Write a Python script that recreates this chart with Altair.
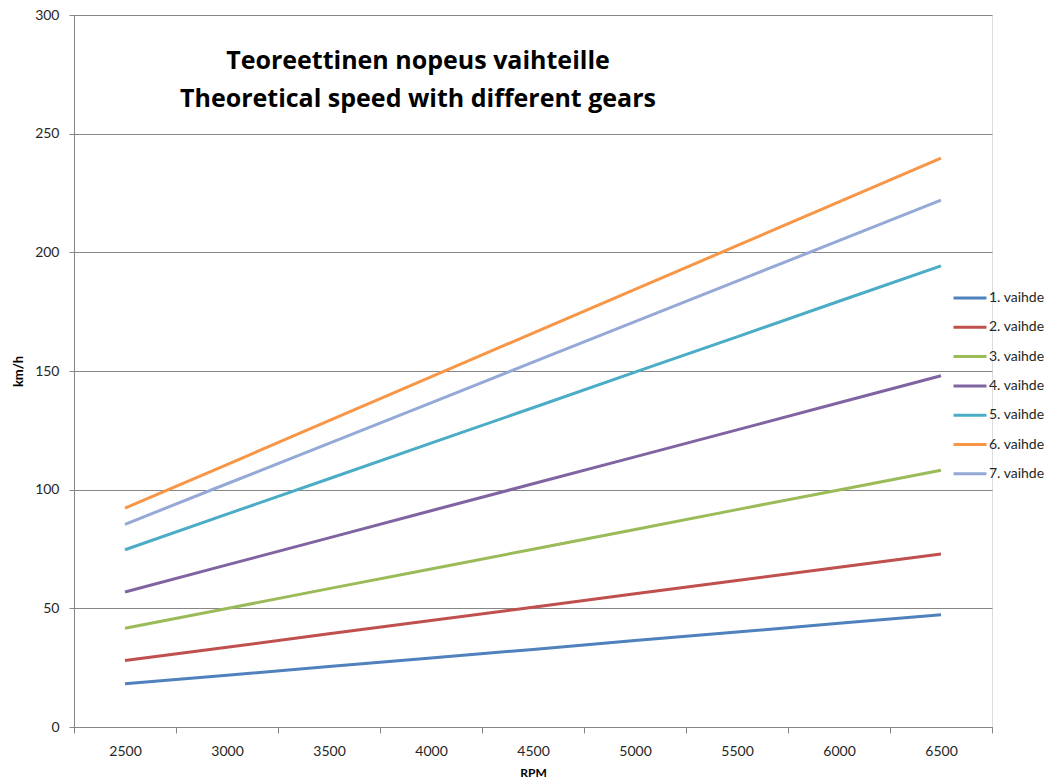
import altair as alt
import pandas as pd

rpm = [2500, 3000, 3500, 4000, 4500, 5000, 5500, 6000, 6500]
gear1 = [18.2, 21.8, 25.5, 29.1, 32.7, 36.4, 40.0, 43.7, 47.3]
gear2 = [28.0, 33.6, 39.3, 44.9, 50.5, 56.1, 61.7, 67.3, 72.9]
gear3 = [41.6, 49.9, 58.3, 66.6, 74.9, 83.2, 91.6, 99.9, 108.2]
gear4 = [56.9, 68.3, 79.7, 91.1, 102.5, 113.8, 125.2, 136.6, 148.0]
gear5 = [74.7, 89.7, 104.6, 119.6, 134.5, 149.5, 164.4, 179.4, 194.3]
gear6 = [92.2, 110.6, 129.1, 147.5, 166.0, 184.4, 202.8, 221.3, 239.7]
gear7 = [85.4, 102.5, 119.5, 136.6, 153.7, 170.8, 187.9, 204.9, 222.0]

series_names = ["1. vaihde", "2. vaihde", "3. vaihde", "4. vaihde",
                "5. vaihde", "6. vaihde", "7. vaihde"]
series_values = [gear1, gear2, gear3, gear4, gear5, gear6, gear7]
colors = ["#4F81BD", "#C0504D", "#9BBB59", "#8064A2", "#4BACC6", "#F79646", "#95A9D6"]
y_ticks = [0, 50, 100, 150, 200, 250, 300]

rows = []
for name, vals in zip(series_names, series_values):
    for r, v in zip(rpm, vals):
        rows.append({"RPM": r, "speed": v, "gear": name})
df = pd.DataFrame(rows)

FONT = "Lato"
TFONT = "Open Sans"
GRAY = "#868686"

chart = alt.Chart(df).mark_line(strokeWidth=3).encode(
    x=alt.X("RPM:O",
            bandPosition=0.5,
            scale=alt.Scale(type="band", paddingInner=0, paddingOuter=0),
            axis=alt.Axis(title="RPM", labelAngle=0, tickBand="extent", tickSize=6,
                          tickColor=GRAY, domainColor=GRAY, labelPadding=11,
                          labelFont=FONT, labelFontSize=14, labelColor="#262626",
                          titleFont=FONT, titleFontSize=12, titleFontWeight="bold",
                          titleColor="#000000", titleY=45, titleBaseline="middle",
                          grid=False)),
    y=alt.Y("speed:Q",
            scale=alt.Scale(domain=[0, 300], nice=False),
            axis=alt.Axis(title="km/h", values=y_ticks, tickSize=5, tickColor=GRAY,
                          domainColor=GRAY, gridColor=GRAY, labelPadding=10,
                          labelFont=FONT, labelFontSize=14, labelColor="#262626",
                          titleFont=FONT, titleFontSize=13, titleFontWeight="bold",
                          titleColor="#000000", titleX=-56, titleY=356,
                          titleAngle=270, titleAlign="center", titleBaseline="middle")),
    color=alt.Color("gear:N",
                    scale=alt.Scale(domain=series_names, range=colors),
                    legend=alt.Legend(title=None, orient="none", legendX=878, legendY=265,
                                      symbolType="stroke", symbolSize=1089,
                                      symbolStrokeWidth=3, labelOffset=1, padding=0,
                                      labelFont=FONT, labelFontSize=14,
                                      labelColor="#262626", rowPadding=4.3)),
).properties(
    width=918,
    height=712,
    title=alt.TitleParams(text=["Teoreettinen nopeus vaihteille",
                                "Theoretical speed with different gears"],
                          font=TFONT, fontSize=25, fontWeight="bold", color="#000000",
                          anchor="middle", dx=-115, offset=-104, lineHeight=38),
    padding={"left": 74, "top": 15, "right": 65, "bottom": 56},
    autosize=alt.AutoSizeParams(type="none"),
).configure_view(stroke=None).configure(background="white")

chart.save("out.html", embed_options={"renderer": "svg", "actions": False})
